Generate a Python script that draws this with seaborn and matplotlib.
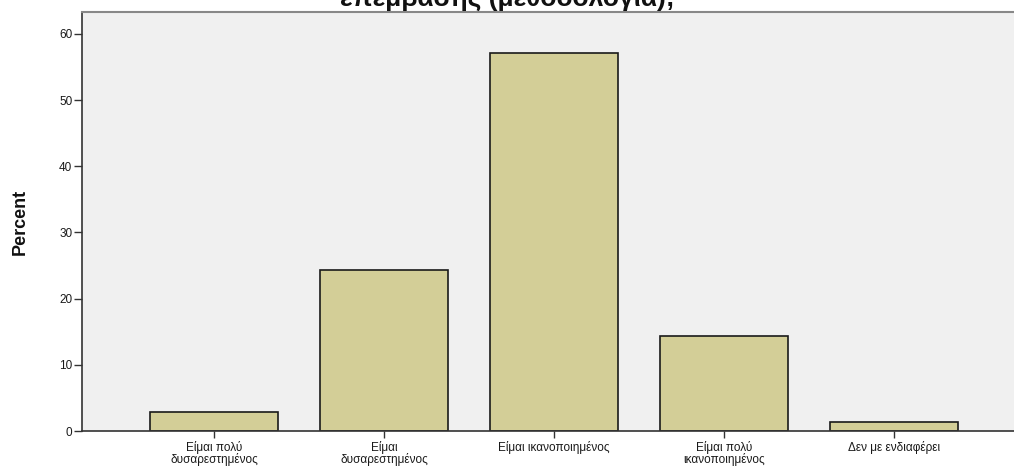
import matplotlib.pyplot as plt
import matplotlib.font_manager as fm
import seaborn as sns
import pandas as pd

# categories et pourcentages
categories = [
    "Είμαι πολύ\nδυσαρεστημένος",
    "Είμαι\nδυσαρεστημένος",
    "Είμαι ικανοποιημένος",
    "Είμαι πολύ\nικανοποιημένος",
    "Δεν με ενδιαφέρει",
]
percent = [2.9, 24.3, 57.1, 14.3, 1.4]
y_ticks = [0, 10, 20, 30, 40, 50, 60]
titre = "επεμβασης (μεθοδολογια);"

data = pd.DataFrame({"cat": categories, "pct": percent})


def police(nom_fichier):
    # on cherche le fichier exact pour eviter la version Narrow
    for f in fm.fontManager.ttflist:
        if f.fname.endswith(nom_fichier):
            return f.fname
    return None


reg = police("LiberationSans-Regular.ttf")
bold = police("LiberationSans-Bold.ttf")
fp_reg = fm.FontProperties(fname=reg, size=8.5) if reg else fm.FontProperties(family="DejaVu Sans", size=8)
fp_title = fm.FontProperties(fname=bold, size=19) if bold else fm.FontProperties(family="DejaVu Sans", weight="bold", size=16)
fp_ylab = fm.FontProperties(fname=bold, size=13) if bold else fm.FontProperties(family="DejaVu Sans", weight="bold", size=12)

sns.set_style("white")

fig = plt.figure(figsize=(10.14, 4.67), dpi=100)
ax = fig.add_axes([82 / 1014, 36 / 467, 1000 / 1014, 419 / 467])
ax.set_facecolor("#f0f0f0")

sns.barplot(data=data, x="cat", y="pct", color="#d3ce97", edgecolor="#1a1a1a",
            linewidth=1.2, width=0.753, saturation=1, ax=ax)

ax.set_xlim(-0.776, -0.776 + 1000 / 170)
ax.set_ylim(0, 63.3)
ax.set_yticks(y_ticks)
ax.tick_params(axis="y", direction="out", length=6, width=1, color="#333333", pad=1, left=True)
ax.tick_params(axis="x", direction="out", length=5, width=1, color="#333333", pad=2, bottom=True)
for lab in ax.get_xticklabels() + ax.get_yticklabels():
    lab.set_fontproperties(fp_reg)
    lab.set_color("#1a1a1a")
for lab in ax.get_xticklabels():
    lab.set_linespacing(0.95)
ax.set_xlabel("")
ax.set_ylabel("Percent", fontproperties=fp_ylab, color="#111111")
ax.yaxis.set_label_coords(-0.053, 0.5)
for s in ["left", "bottom"]:
    ax.spines[s].set_color("#333333")
    ax.spines[s].set_linewidth(1.2)
ax.spines["top"].set_color("#888888")
ax.spines["top"].set_linewidth(1.5)
ax.spines["right"].set_visible(False)

fig.text(0.5, 1 - 6 / 467, titre, ha="center", va="baseline", fontproperties=fp_title, color="#111111")

fig.savefig("out.png", dpi=100, facecolor="white")
